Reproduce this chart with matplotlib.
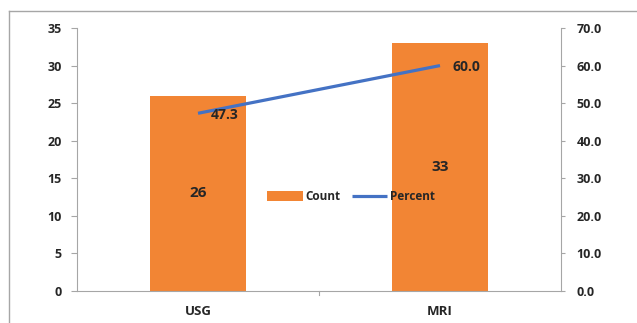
import matplotlib
matplotlib.use('Agg')
import matplotlib.pyplot as plt
from matplotlib.lines import Line2D

# Counts and percentages per imaging modality
categories = ['USG', 'MRI']
counts = [26, 33]
percents = [47.3, 60.0]

plt.rcParams['font.family'] = ['Open Sans', 'DejaVu Sans']
plt.rcParams['font.weight'] = 'bold'

orange = '#F28534'
blue = '#4472C4'
grey = '#A6A6A6'
text_col = '#262626'

fig = plt.figure(figsize=(6.37, 3.23), dpi=100)
ax = fig.add_axes([0.1209, 0.0991, 0.7598, 0.8142])
ax2 = ax.twinx()

x = list(range(len(categories)))
bars = ax.bar(x, counts, width=0.4, color=orange, label='Count', zorder=2)
line, = ax2.plot(x, percents, color=blue, lw=2.3, label='Percent', zorder=3,
                 solid_capstyle='butt')

ax.set_xlim(-0.5, len(categories) - 0.5)
ax.set_ylim(0, 35)
ax.set_yticks(range(0, 36, 5))
ax2.set_ylim(0, 70)
ax2.set_yticks(range(0, 71, 10))
ax2.set_yticklabels([f'{v:.1f}' for v in range(0, 71, 10)])

# category ticks sit between the groups
ax.set_xticks(x)
ax.set_xticklabels(categories, fontsize=9.5, color=text_col, fontweight='bold')
ax.tick_params(axis='x', length=0, pad=10)
for b in [0.5]:
    ax.plot([b, b], [0, -0.6], color=grey, lw=0.8, clip_on=False)

ax.tick_params(axis='y', length=4, color=grey, labelsize=9,
               labelcolor=text_col, pad=7)
ax2.tick_params(axis='y', length=3, color=grey, labelsize=9,
                labelcolor=text_col, pad=8)
for a in (ax, ax2):
    for t in a.get_yticklabels():
        t.set_fontweight('bold')

for a in (ax, ax2):
    a.spines['top'].set_visible(False)
    a.spines['right'].set_visible(False)
    a.spines['left'].set_visible(False)
    a.spines['bottom'].set_color(grey)
ax.spines['left'].set_visible(True)
ax.spines['left'].set_color(grey)
ax2.spines['right'].set_visible(True)
ax2.spines['right'].set_color(grey)
ax2.spines['bottom'].set_visible(False)

# value labels
for xi, c in zip(x, counts):
    ax.text(xi, c / 2, str(c), ha='center', va='center', fontsize=11,
            color=text_col, fontweight='bold', zorder=4)
for xi, p in zip(x, percents):
    ax2.annotate(f'{p:.1f}', (xi, p), xytext=(9, -1), textcoords='offset points',
                 ha='left', va='center', fontsize=10, color=text_col,
                 fontweight='bold', zorder=4)

leg = fig.legend(handles=[bars, line], labels=['Count', 'Percent'],
                 loc='center', bbox_to_anchor=(0.551, 0.391), ncol=2,
                 frameon=False, fontsize=8.5, handlelength=3.0,
                 handleheight=0.9, handletextpad=0.2, columnspacing=1.0)
for t in leg.get_texts():
    t.set_color(text_col)
    t.set_fontweight('bold')

# outer chart border
fig.add_artist(Line2D([8.5 / 637, 1], [1 - 10.5 / 323] * 2, color=grey, lw=1.0,
                      transform=fig.transFigure))
fig.add_artist(Line2D([8.5 / 637] * 2, [0, 1 - 10.5 / 323], color=grey, lw=1.0,
                      transform=fig.transFigure))

fig.savefig('out.png', dpi=100)
